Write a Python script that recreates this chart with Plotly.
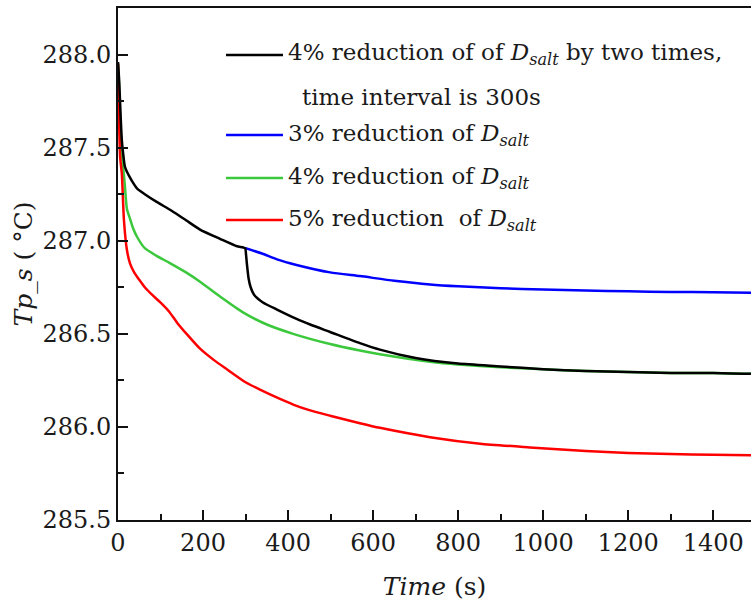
import plotly.graph_objects as go

# ---- data ----
black_x = [0, 3, 6, 9, 12, 16, 21, 28, 33, 45, 63, 90, 127, 160, 193, 240, 280, 299,
           301, 303, 307, 312, 320, 340, 374, 420, 452, 499, 569, 616, 700, 800, 900,
           1000, 1100, 1200, 1300, 1400, 1489]
black_y = [287.96, 287.85, 287.68, 287.54, 287.47, 287.40, 287.37, 287.34, 287.32, 287.28,
           287.25, 287.21, 287.16, 287.11, 287.06, 287.01, 286.97, 286.96,
           286.93, 286.88, 286.80, 286.75, 286.71, 286.67, 286.63, 286.58, 286.55, 286.51,
           286.45, 286.415, 286.37, 286.34, 286.325, 286.31, 286.30, 286.295, 286.29,
           286.29, 286.285]

blue_x = [300, 340, 374, 420, 499, 569, 650, 734, 800, 900, 1000, 1100, 1200, 1300, 1400, 1489]
blue_y = [286.96, 286.93, 286.90, 286.87, 286.83, 286.81, 286.785, 286.765, 286.755,
          286.745, 286.738, 286.733, 286.728, 286.725, 286.723, 286.72]

green_x = [0, 3, 6, 9, 12, 16, 21, 28, 35, 45, 63, 90, 122, 160, 193, 240, 294, 350, 412,
           499, 569, 616, 734, 800, 900, 1000, 1100, 1200, 1300, 1400, 1489]
green_y = [287.95, 287.80, 287.60, 287.48, 287.40, 287.30, 287.17, 287.12, 287.07, 287.02,
           286.96, 286.92, 286.88, 286.83, 286.78, 286.70, 286.615, 286.55, 286.50, 286.445,
           286.41, 286.39, 286.35, 286.335, 286.32, 286.31, 286.30, 286.295, 286.29, 286.29,
           286.285]

red_x = [0, 2, 5, 9, 14, 21, 28, 38, 50, 63, 80, 99, 120, 139, 165, 193, 225, 256, 300,
         334, 381, 412, 450, 499, 569, 616, 734, 852, 969, 1100, 1200, 1300, 1400, 1489]
red_y = [287.95, 287.70, 287.45, 287.36, 287.11, 286.95, 286.88, 286.83, 286.79, 286.75,
         286.71, 286.67, 286.62, 286.56, 286.49, 286.42, 286.36, 286.31, 286.24, 286.20,
         286.15, 286.12, 286.09, 286.06, 286.02, 285.995, 285.945, 285.91, 285.89, 285.87,
         285.86, 285.855, 285.85, 285.848]

legend_labels = [
    "4% reduction of of <i>D<sub>salt</sub></i> by two times,",
    "time interval is 300s",
    "3% reduction of <i>D<sub>salt</sub></i>",
    "4% reduction of <i>D<sub>salt</sub></i>",
    "5% reduction  of <i>D<sub>salt</sub></i>",
]

x_ticks = [0, 200, 400, 600, 800, 1000, 1200, 1400]
y_ticks = [285.5, 286.0, 286.5, 287.0, 287.5, 288.0]
y_tick_text = ["285.5", "286.0", "286.5", "287.0", "287.5", "288.0"]

FONT = "DejaVu Serif"
C_BLUE = "#0000FF"
C_GREEN = "#3CC83C"
C_RED = "#FF0000"
C_BLACK = "#000000"
TXT = "#1a1a1a"

def line(col):
    return dict(color=col, width=2.5, shape="spline", smoothing=0.6)

fig = go.Figure()
fig.add_trace(go.Scatter(x=blue_x, y=blue_y, mode="lines", line=line(C_BLUE)))
fig.add_trace(go.Scatter(x=green_x, y=green_y, mode="lines", line=line(C_GREEN)))
fig.add_trace(go.Scatter(x=red_x, y=red_y, mode="lines", line=line(C_RED)))
fig.add_trace(go.Scatter(x=black_x, y=black_y, mode="lines", line=line(C_BLACK)))

W, H = 751, 611
L, R, T, B = 118, 0, 8, 91
pw = W - L - R
ph = H - T - B

def px(xp):
    return (xp - L) / pw

def py(yp):
    return (H - B - yp) / ph

# manual legend
key_rows = [(55, C_BLACK), (135, C_BLUE), (178, C_GREEN), (220, C_RED)]
for yp, col in key_rows:
    fig.add_shape(type="line", xref="paper", yref="paper",
                  x0=px(226), x1=px(283), y0=py(yp), y1=py(yp),
                  line=dict(color=col, width=2.5))

text_rows = [(54, 286, 0), (97, 300, 1), (135, 286, 2), (178, 286, 3), (220, 286, 4)]
for yp, xp, i in text_rows:
    fig.add_annotation(xref="paper", yref="paper", x=px(xp), y=py(yp),
                       xanchor="left", yanchor="middle", showarrow=False,
                       text=legend_labels[i], font=dict(family=FONT, size=23, color=TXT))

fig.update_layout(
    width=W, height=H,
    margin=dict(l=L, r=R, t=T, b=B, pad=0),
    paper_bgcolor="white", plot_bgcolor="white",
    showlegend=False,
    font=dict(family=FONT, size=24, color=TXT),
)
fig.update_xaxes(
    range=[0, 1489], tickvals=x_ticks, ticks="inside", ticklen=10, tickwidth=2,
    tickcolor="#111", showline=True, linecolor="#111", linewidth=2, mirror=True,
    showgrid=False, zeroline=False,
    minor=dict(ticks="inside", ticklen=6, tickwidth=2, tickcolor="#111", dtick=100, showgrid=False),
    tickfont=dict(family=FONT, size=24, color=TXT),
    title=dict(text="<i>Time</i> (s)", font=dict(family=FONT, size=25, color=TXT), standoff=22),
)
fig.update_yaxes(
    range=[285.5, 288.25], tickvals=y_ticks, ticktext=y_tick_text, ticks="inside",
    ticklen=10, tickwidth=2, tickcolor="#111", showline=True, linecolor="#111",
    linewidth=2, mirror=False, showgrid=False, zeroline=False,
    minor=dict(ticks="inside", ticklen=6, tickwidth=2, tickcolor="#111", dtick=0.25, showgrid=False),
    tickfont=dict(family=FONT, size=24, color=TXT),
    title=dict(text="<i>Tp_s</i> ( °C)", font=dict(family=FONT, size=25, color=TXT), standoff=3),
)

fig.write_html("out.html")
